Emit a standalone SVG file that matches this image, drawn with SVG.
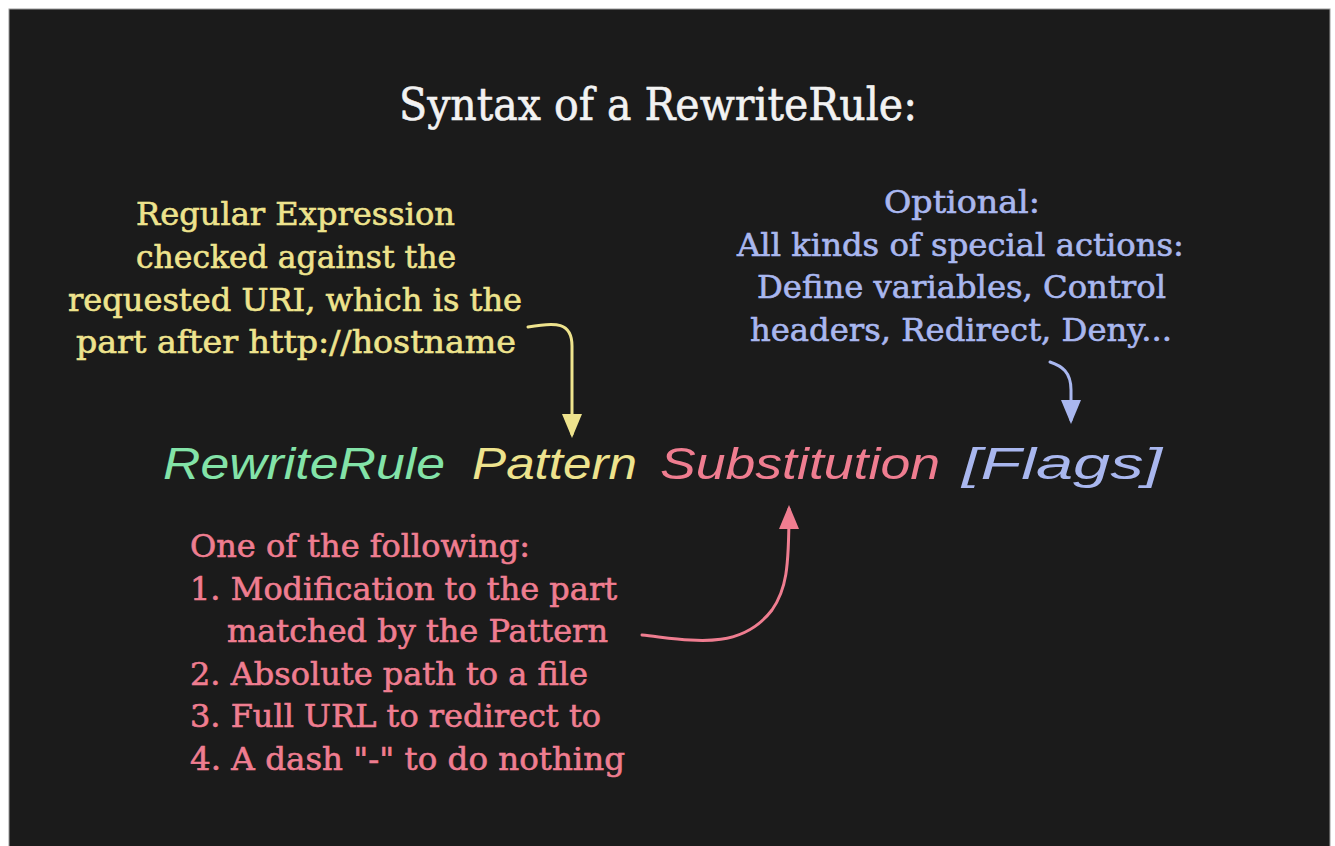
<svg xmlns="http://www.w3.org/2000/svg" width="1335" height="846" viewBox="0 0 1335 846">
<defs>
<style>
.serif{font-family:"DejaVu Serif","Liberation Serif",serif;font-size:31px;stroke-width:0.6px}
.title{font-family:"DejaVu Serif","Liberation Serif",serif;font-size:44px;fill:#f2f2f2;stroke:#f2f2f2;stroke-width:0.6px}
.code{font-family:"Liberation Sans","DejaVu Sans",sans-serif;font-style:italic;font-size:44px}
.yellow{fill:#eee38d;stroke:#eee38d}
.blue{fill:#a9b7ef;stroke:#a9b7ef}
.pink{fill:#ef7d90;stroke:#ef7d90}
.green{fill:#83e3a8}
.code text{stroke:none}
.conn{fill:none;stroke-width:3;stroke-linecap:round}
</style>
<marker id="ah-y" viewBox="0 0 24 20" refX="20" refY="10" markerWidth="24" markerHeight="20" markerUnits="userSpaceOnUse" orient="auto"><path d="M0,0 L24,10 L0,20 Z" fill="#eee38d"/></marker>
<marker id="ah-b" viewBox="0 0 24 20" refX="20" refY="10" markerWidth="24" markerHeight="20" markerUnits="userSpaceOnUse" orient="auto"><path d="M0,0 L24,10 L0,20 Z" fill="#a9b7ef"/></marker>
<marker id="ah-p" viewBox="0 0 24 20" refX="20" refY="10" markerWidth="24" markerHeight="20" markerUnits="userSpaceOnUse" orient="auto"><path d="M0,0 L24,10 L0,20 Z" fill="#ef7d90"/></marker>
</defs>
<rect x="0" y="0" width="1335" height="846" fill="#ffffff"/>
<rect x="9" y="9" width="1321" height="850" fill="#1b1b1b" stroke="#9a9a9a" stroke-width="1"/>

<g id="title">
<text class="title" x="399" y="120" textLength="518" lengthAdjust="spacingAndGlyphs">Syntax of a RewriteRule:</text>
</g>

<g id="pattern-note" class="serif yellow">
<text x="136" y="225" textLength="319" lengthAdjust="spacingAndGlyphs">Regular Expression</text>
<text x="136" y="268" textLength="320" lengthAdjust="spacingAndGlyphs">checked against the</text>
<text x="68" y="311" textLength="454" lengthAdjust="spacingAndGlyphs">requested URI, which is the</text>
<text x="76" y="353" textLength="440" lengthAdjust="spacingAndGlyphs">part after http://hostname</text>
</g>

<g id="flags-note" class="serif blue">
<text x="884" y="213" textLength="156" lengthAdjust="spacingAndGlyphs">Optional:</text>
<text x="737" y="256" textLength="447" lengthAdjust="spacingAndGlyphs">All kinds of special actions:</text>
<text x="757" y="298" textLength="409" lengthAdjust="spacingAndGlyphs">Define variables, Control</text>
<text x="750" y="341" textLength="422" lengthAdjust="spacingAndGlyphs">headers, Redirect, Deny...</text>
</g>

<g id="substitution-note" class="serif pink">
<text x="190" y="557" textLength="340" lengthAdjust="spacingAndGlyphs">One of the following:</text>
<text x="190" y="600" textLength="427" lengthAdjust="spacingAndGlyphs">1. Modification to the part</text>
<text x="227" y="642" textLength="381" lengthAdjust="spacingAndGlyphs">matched by the Pattern</text>
<text x="190" y="685" textLength="398" lengthAdjust="spacingAndGlyphs">2. Absolute path to a file</text>
<text x="190" y="727" textLength="411" lengthAdjust="spacingAndGlyphs">3. Full URL to redirect to</text>
<text x="190" y="770" textLength="435" lengthAdjust="spacingAndGlyphs">4. A dash "-" to do nothing</text>
</g>

<g id="rule-line" class="code">
<text id="kw-rewriterule" class="green" x="163" y="479" textLength="282" lengthAdjust="spacingAndGlyphs">RewriteRule</text>
<text id="kw-pattern" class="yellow" x="472" y="479" textLength="165" lengthAdjust="spacingAndGlyphs">Pattern</text>
<text id="kw-substitution" class="pink" x="660" y="479" textLength="280" lengthAdjust="spacingAndGlyphs">Substitution</text>
<text id="kw-flags" class="blue" x="962" y="479" textLength="200" lengthAdjust="spacingAndGlyphs">[Flags]</text>
</g>

<g id="connectors">
<path class="conn" stroke="#eee38d" d="M528,327 C556,322 572,322 572,346 L572,434" marker-end="url(#ah-y)"/>
<path class="conn" stroke="#a9b7ef" d="M1050,362 C1062,366 1071,372 1071,390 L1071,420" marker-end="url(#ah-b)"/>
<path class="conn" stroke="#ef7d90" d="M642,635 C690,640 740,652 772,610 C786,590 789,570 789,509" marker-end="url(#ah-p)"/>
</g>
</svg>
